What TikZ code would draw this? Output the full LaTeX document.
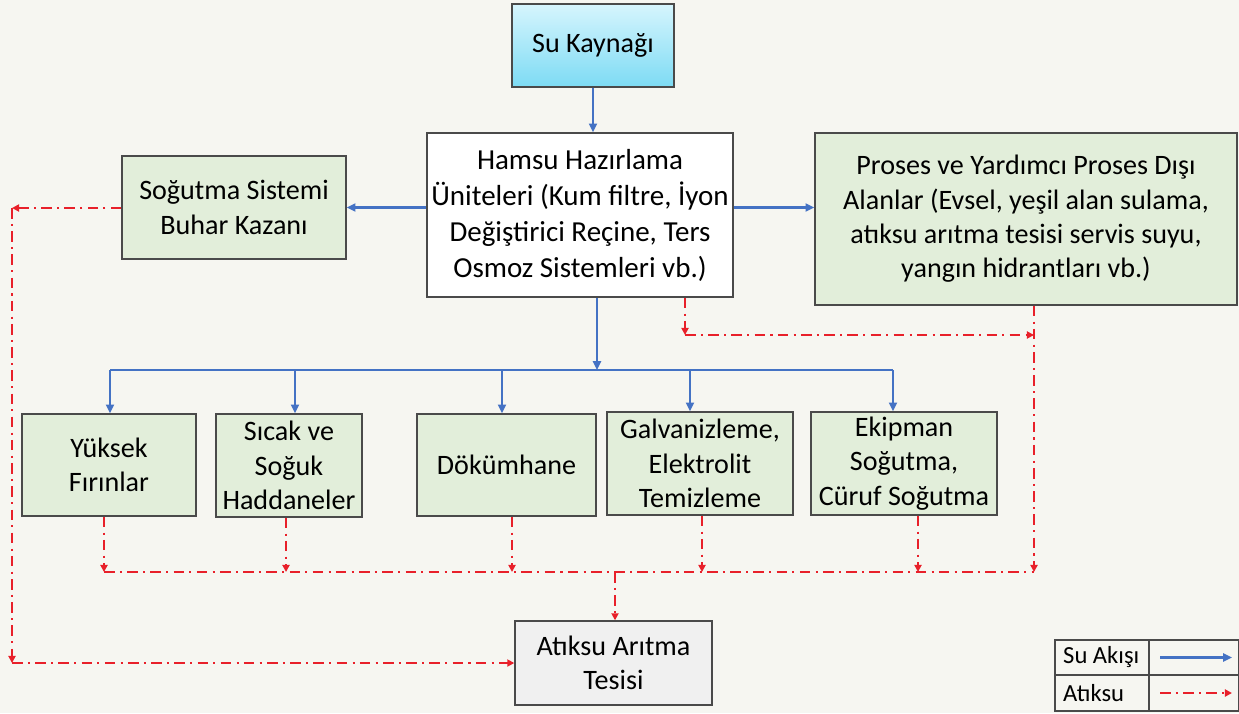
\documentclass[tikz,border=0pt]{standalone}
\usepackage{fontspec}
\setmainfont{Carlito}
\usetikzlibrary{arrows.meta}
\definecolor{bgc}{HTML}{F6F6F1}
\definecolor{flow}{HTML}{4472C4}
\definecolor{waste}{HTML}{E8202A}
\definecolor{boxgreen}{HTML}{E2EEDA}
\definecolor{boxline}{HTML}{4A4A4A}
\definecolor{cyantop}{HTML}{D6F5FD}
\definecolor{cyanbot}{HTML}{7DDBF4}

\begin{document}
\begin{tikzpicture}[x=0.02cm, y=-0.02cm, font=\fontsize{16}{19.5}\selectfont,
    box/.style 2 args={draw=boxline, line width=0.8pt, fill=boxgreen, align=center,
      inner sep=0pt, minimum width=#1*0.02cm, minimum height=#2*0.02cm},
    flowline/.style={draw=flow, line width=1.2pt},
    flowarrow/.style={flowline, -{Triangle[length=5pt,width=4.5pt]}},
    wasteline/.style={draw=waste, line width=1.1pt, dash pattern=on 6pt off 3pt on 1.2pt off 3pt},
    wastearrow/.style={wasteline, -{Triangle[length=4pt,width=4pt]}}]
    \fill[bgc] (0,0) rectangle (1239,713);
    \useasboundingbox (0,0) rectangle (1239,713);

    % boxes
    \node[box={162}{83}, top color=cyantop, bottom color=cyanbot] (S) at (593,45.5) {Su Kaynağı};
    \node[box={306}{164}, fill=white, font=\fontsize{16.5}{20.5}\selectfont] (H) at (580,215) {
      Hamsu Hazırlama\\Üniteleri (Kum filtre, İyon\\Değiştirici Reçine, Ters\\Osmoz Sistemleri vb.)
    };
    \node[box={224}{103}] (C) at (234,207.5) {Soğutma Sistemi\\Buhar Kazanı};
    \node[box={422}{172}] (P) at (1026,219) {
      Proses ve Yardımcı Proses Dışı\\Alanlar (Evsel, yeşil alan sulama,\\atıksu arıtma tesisi servis suyu,\\yangın hidrantları vb.)
    };
    \node[box={174}{102}] (Y) at (109,465) {Yüksek\\Fırınlar};
    \node[box={146}{103}] (SH) at (289,465.5) {Sıcak ve\\Soğuk\\Haddaneler};
    \node[box={179}{102}] (D) at (506.5,465) {Dökümhane};
    \node[box={186}{103}] (G) at (700,463.5) {Galvanizleme,\\Elektrolit\\Temizleme};
    \node[box={186}{103}] (E) at (904,463.5) {Ekipman\\Soğutma,\\Cüruf Soğutma};
    \node[box={197}{84}, fill=black!6] (A) at (613.5,663) {Atıksu Arıtma\\Tesisi};

    % water flow
    \draw[flowarrow] (S.south) -- (S.south |- H.north);
    \draw[flowarrow] (H.west |- C.east) -- (C.east);
    \draw[flowarrow] (H.east |- C.east) -- (H.east |- C.east -| P.west);
    \coordinate (bus) at (597,370);
    \draw[flowarrow] (H.south -| bus) -- (bus);
    \draw[flowline] (110,370) -- (893,370);
    \foreach \n/\x in {Y/110, SH/295, D/502, G/690, E/893}{
      \coordinate (b\n) at (\x,370);
      \draw[flowarrow] (b\n) -- (b\n |- \n.north);
    }

    % waste water
    \foreach \n/\x in {Y/104, SH/286, D/512, G/702, E/918, P/1034}{
      \coordinate (w\n) at (\x,572);
      \draw[wastearrow] (w\n |- \n.south) -- (w\n);
    }
    \draw[wasteline] (wY) -- (wP);
    \coordinate (wA) at (615,572);
    \draw[wastearrow] (wA) -- (wA |- A.north);
    \coordinate (hk) at (685,335);
    \draw[wastearrow] (hk |- H.south) -- (hk);
    \draw[wastearrow] (hk) -- (hk -| wP);
    \coordinate (ck) at (12,208);
    \draw[wastearrow] (C.west |- ck) -- (ck);
    \draw[wastearrow] (ck) -- (ck |- A.west);
    \draw[wastearrow] (ck |- A.west) -- (A.west);

    % legend
    \draw[boxline, line width=0.8pt] (1055,640) rectangle (1239,711);
    \draw[boxline, line width=0.8pt] (1055,675) -- (1239,675) (1149,640) -- (1149,711);
    \node[font=\fontsize{14}{16}\selectfont, anchor=west] (L1) at (1057,657.5) {Su Akışı};
    \node[font=\fontsize{14}{16}\selectfont, anchor=west] (L2) at (1057,693) {Atıksu};
    \coordinate (f1) at (1160,657.5);
    \coordinate (f2) at (1232,657.5);
    \coordinate (g1) at (1160,693);
    \coordinate (g2) at (1232,693);
    \draw[flowarrow] (f1) -- (f2);
    \draw[wastearrow] (g1) -- (g2);
\end{tikzpicture}
\end{document}
